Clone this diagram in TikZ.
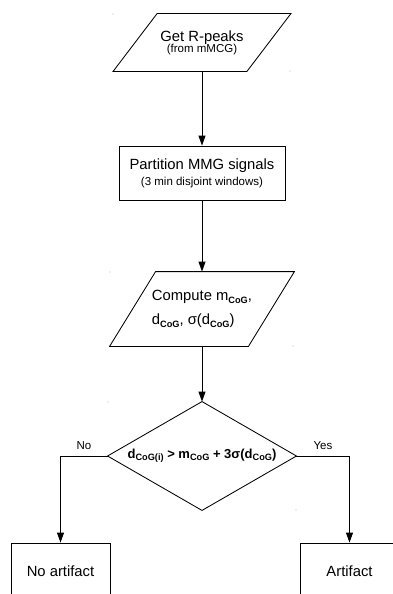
\documentclass[tikz,border=0pt]{standalone}
\usepackage{fontspec}
\setmainfont{Liberation Sans}
\usetikzlibrary{arrows.meta}
\newcommand\subbf[1]{\raisebox{-0.35ex}{\fontsize{9.2}{10}\selectfont\bfseries #1}}
\begin{document}
\begin{tikzpicture}[x=1pt,y=-1pt,
  line width=0.85pt,
  arr/.style={-{Triangle[length=10pt,width=7pt]}},
  holder/.style={draw=none,inner sep=0pt,align=center},
  shp/.style={draw=black,line width=0.85pt,line join=miter},
  boxst/.style={draw=black,inner sep=0pt,align=center,font=\fontsize{14.8}{17}\selectfont},
  lab/.style={inner sep=0pt,font=\fontsize{11.5}{13}\selectfont},
  main/.style={font=\fontsize{14.8}{17}\selectfont},
  dot/.style={fill=gray!55}
]
\useasboundingbox (0,0) rectangle (393,594);
\clip (0,0) rectangle (393,594);

% Get R-peaks (parallelogram)
\node[holder,minimum width=177pt,minimum height=57pt] (get) at (202,42.5)
  {{\fontsize{14.8}{16}\selectfont Get R-peaks}\\[-1pt]{\fontsize{11.5}{13}\selectfont (from mMCG)}};
\draw[shp] ([xshift=44pt]get.north west) -- (get.north east)
  -- ([xshift=-44pt]get.south east) -- (get.south west) -- cycle;

% Partition box
\node[boxst,minimum width=166pt,minimum height=54pt] (part) at (202,173)
  {Partition MMG signals\\[-1pt]{\fontsize{11.5}{13}\selectfont (3 min disjoint windows)}};

% Compute (parallelogram)
\node[holder,align=left,minimum width=184pt,minimum height=74pt,
  font=\fontsize{14.8}{24}\selectfont] (comp) at (202,309)
  {Compute m\subbf{CoG},\\ d\subbf{CoG}, σ(d\subbf{CoG})};
\draw[shp] ([xshift=46pt]comp.north west) -- (comp.north east)
  -- ([xshift=-46pt]comp.south east) -- (comp.south west) -- cycle;

% Decision diamond
\node[holder,minimum width=188pt,minimum height=108pt,
  font=\fontsize{13}{15}\selectfont\bfseries] (dec) at (202,456)
  {d\subbf{CoG(i)} \textgreater{} m\subbf{CoG} + 3σ(d\subbf{CoG})};
\draw[shp] (dec.north) -- (dec.east) -- (dec.south) -- (dec.west) -- cycle;

% Outcome boxes
\node[boxst,minimum width=99pt,minimum height=56pt] (no) at (60.5,571) {No artifact};
\node[boxst,minimum width=99pt,minimum height=56pt] (yes) at (349.5,571) {Artifact};

% Connectors
\draw[arr] (get.south) -- (part.north);
\draw[arr] (part.south) -- (comp.north);
\draw[arr] (comp.south) -- (dec.north);
\draw[arr] (dec.west) -| (no.north) node[lab,pos=0.25,above=6pt] {No};
\draw[arr] (dec.east) -| (yes.north) node[lab,pos=0.25,above=6pt] {Yes};

% faint corner marks
\fill[dot] (113,14) circle (0.6pt);
\fill[dot] (290,71) circle (0.6pt);
\fill[dot] (110,272) circle (0.6pt);
\fill[dot] (293,346) circle (0.6pt);
\fill[dot] (108,402) circle (0.6pt);
\fill[dot] (296,510) circle (0.6pt);
\end{tikzpicture}
\end{document}
